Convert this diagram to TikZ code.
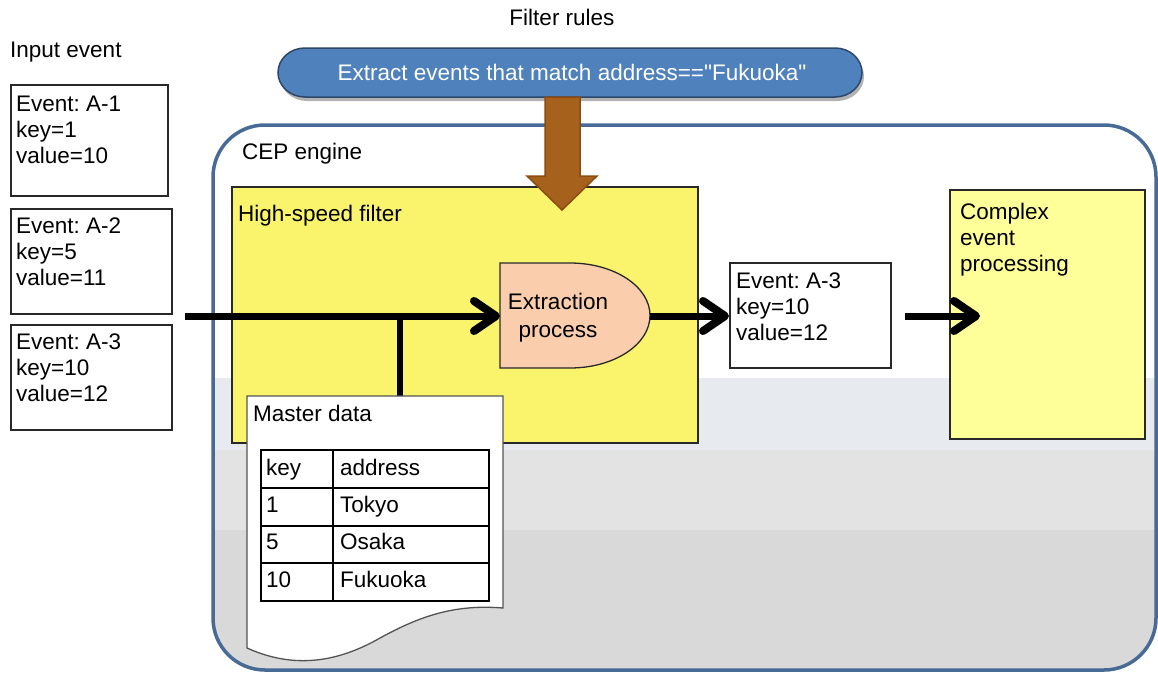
\documentclass[tikz,border=0pt]{standalone}
\usepackage{fontspec}
\setmainfont{Liberation Sans}
\usetikzlibrary{arrows.meta}
\frenchspacing

\definecolor{cepblue}{RGB}{72,106,150}
\definecolor{bannerfill}{RGB}{79,129,189}
\definecolor{bannerline}{RGB}{45,70,105}
\definecolor{filteryellow}{RGB}{249,244,107}
\definecolor{cepyellow}{RGB}{255,255,153}
\definecolor{peach}{RGB}{250,206,172}
\definecolor{brownfill}{RGB}{166,98,28}
\definecolor{brownline}{RGB}{140,75,15}
\definecolor{bandA}{RGB}{231,235,239}
\definecolor{bandB}{RGB}{227,227,227}
\definecolor{bandC}{RGB}{217,217,217}
\definecolor{boxline}{RGB}{40,40,40}

\begin{document}
\begin{tikzpicture}[x=1pt,y=-1pt,
  font=\fontsize{22.5}{26}\selectfont,
  evbox/.style={draw=boxline, line width=1.6pt, fill=white, anchor=north west, inner sep=0pt},
  txt/.style={anchor=north west, inner sep=0pt, align=left, text=black},
  cell/.style={anchor=base west, inner sep=0pt, text=black},
  flow/.style={line width=7pt, -{Straight Barb[length=22pt,width=30pt,line width=8pt,round]}},
  plainline/.style={line width=6pt}
]
\useasboundingbox (0,0) rectangle (1158,675);

% ---- CEP engine: banded background clipped to the rounded frame
\begin{scope}
  \clip[rounded corners=52pt] (213,125) rectangle (1156,670);
  \fill[white]  (213,125) rectangle (1156,378);
  \fill[bandA]  (213,378) rectangle (1156,450);
  \fill[bandB]  (213,450) rectangle (1156,530);
  \fill[bandC]  (213,530) rectangle (1156,670);
\end{scope}
\draw[cepblue, line width=3.5pt, rounded corners=52pt] (213,125) rectangle (1156,670);
\node[txt] (ceplbl) at (242,143) {CEP engine};

% ---- titles
\node[anchor=north, inner sep=0pt] (filtertitle) at (562,9) {Filter rules};
\node[txt] (inputtitle) at (10,42) {Input event};

% ---- filter rule banner
\fill[black!30, shift={(2,4)}] (305,48) -- (835,48)
  arc[start angle=-90, end angle=90, x radius=27, y radius=24.5] -- (305,97)
  arc[start angle=90, end angle=270, x radius=27, y radius=24.5] -- cycle;
\draw[bannerline, fill=bannerfill, line width=1.5pt] (305,48) -- (835,48)
  arc[start angle=-90, end angle=90, x radius=27, y radius=24.5] -- (305,97)
  arc[start angle=90, end angle=270, x radius=27, y radius=24.5] -- cycle;
\node[anchor=base, inner sep=0pt, text=white] (rule) at (572,80)
  {Extract events that match address==\textquotedbl Fukuoka\textquotedbl};

% ---- input events
\node[evbox, minimum width=157pt, minimum height=111pt] (a1) at (10,84) {};
\node[txt] (a1t) at (16,96) {Event: A-1\\key=1\\value=10};
\node[evbox, minimum width=161pt, minimum height=105pt] (a2) at (10,208) {};
\node[txt] (a2t) at (16,218) {Event: A-2\\key=5\\value=11};
\node[evbox, minimum width=161pt, minimum height=105pt] (a3) at (10,324) {};
\node[txt] (a3t) at (16,334) {Event: A-3\\key=10\\value=12};

% ---- high-speed filter
\node[draw=boxline, line width=1.6pt, fill=filteryellow, anchor=north west, inner sep=0pt,
      minimum width=466pt, minimum height=256pt] (hsf) at (231,186) {};
\node[txt] (hsflbl) at (238,205) {High-speed filter};

% ---- extraction process (D shape)
\draw[boxline, fill=peach, line width=1.3pt] (500,263) -- (570,263)
  arc[start angle=-90, end angle=90, x radius=80, y radius=52.5] -- (500,368) -- cycle;
\node[anchor=north, inner sep=0pt, align=center, text=black,
      font=\fontsize{22.5}{28}\selectfont] (ext) at (558,293) {Extraction\\process};
\coordinate (extW) at (500,316);
\coordinate (extE) at (650,316);

% ---- filtered event
\node[evbox, minimum width=161pt, minimum height=105pt] (outev) at (729,262) {};
\node[txt] (outevt) at (736,273) {Event: A-3\\key=10\\value=12};

% ---- complex event processing
\node[draw=boxline, line width=1.6pt, fill=cepyellow, anchor=north west, inner sep=0pt,
      minimum width=195pt, minimum height=249pt] (cep) at (949,189) {};
\node[txt] (ceplines) at (960,203) {Complex\\event\\processing};

% ---- flow connectors
\coordinate (inS) at (185,316);
\coordinate (jn) at (400,316);
\coordinate (mdtop) at (400,398);
\coordinate (cepS) at (905,316);
\coordinate (cepT) at (980,316);
\draw[plainline] (jn) -- (mdtop);
\draw[flow] (inS) -- (extW);
\draw[flow] (extE) -- (outev.west |- extE);
\draw[flow] (cepS) -- (cepT);

% ---- master data document
\draw[boxline!80, fill=white, line width=1.3pt] (247,396) -- (503,396) -- (503,608)
  .. controls (455,604) and (420,616) .. (380,638)
  .. controls (345,658) and (300,672) .. (247,648) -- cycle;
\node[txt] (mdlbl) at (253,405) {Master data};

% table
\draw[black, line width=1.4pt] (261,450) rectangle (489,601);
\draw[black, line width=1.4pt] (261,488) -- (489,488) (261,526) -- (489,526) (261,563) -- (489,563);
\draw[black, line width=1.4pt] (333,450) -- (333,601);
\node[cell] (k0) at (266,475) {key};
\node[cell] (v0) at (340,475) {address};
\node[cell] (k1) at (266,512) {1};
\node[cell] (v1) at (340,512) {Tokyo};
\node[cell] (k2) at (266,549) {5};
\node[cell] (v2) at (340,549) {Osaka};
\node[cell] (k3) at (266,587) {10};
\node[cell] (v3) at (340,587) {Fukuoka};

% ---- rule feed arrow
\draw[brownline, fill=brownfill, line width=1.5pt]
  (545,97) -- (580,97) -- (580,176) -- (597,176) -- (562,210) -- (527,176) -- (545,176) -- cycle;
\end{tikzpicture}
\end{document}
